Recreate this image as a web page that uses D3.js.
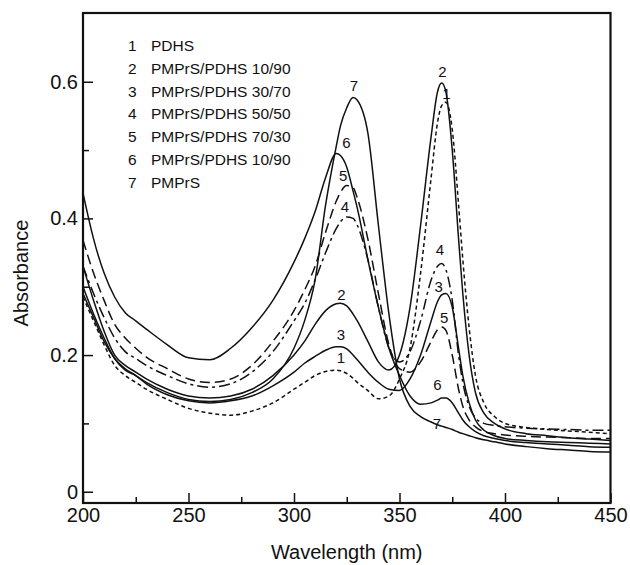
<!DOCTYPE html>
<html>
<head>
<meta charset="utf-8">
<script src="https://cdn.jsdelivr.net/npm/d3@7"></script>
<style>
  body { margin: 0; background: #fff; }
  svg { font-family: "Liberation Sans", Arial, sans-serif; }
  .line { fill: none; stroke: #111; stroke-width: 1.5; }
</style>
</head>
<body>
<div id="chart"></div>
<script>
// wavelength grid (nm), shared by all spectra
var wavelengths = [200, 205, 210, 215, 220, 225, 230, 240, 250, 260, 270, 280, 290, 300, 305, 310, 315, 320, 322, 325, 328, 330, 335, 340, 345, 350, 355, 360, 365, 368, 370, 372, 375, 378, 380, 383, 386, 390, 395, 400, 410, 420, 430, 440, 450];

var pdhs = [0.285, 0.25, 0.215, 0.185, 0.17, 0.16, 0.15, 0.135, 0.122, 0.115, 0.112, 0.118, 0.13, 0.15, 0.16, 0.17, 0.176, 0.178, 0.177, 0.173, 0.166, 0.16, 0.148, 0.136, 0.14, 0.165, 0.21, 0.32, 0.46, 0.54, 0.565, 0.57, 0.53, 0.42, 0.34, 0.24, 0.17, 0.13, 0.11, 0.1, 0.094, 0.091, 0.089, 0.087, 0.085];
var blend10 = [0.33, 0.28, 0.235, 0.2, 0.185, 0.175, 0.165, 0.15, 0.14, 0.137, 0.14, 0.15, 0.17, 0.2, 0.22, 0.245, 0.265, 0.275, 0.276, 0.272, 0.26, 0.25, 0.22, 0.19, 0.178, 0.2, 0.27, 0.39, 0.52, 0.585, 0.598, 0.585, 0.5, 0.37, 0.29, 0.2, 0.145, 0.115, 0.1, 0.092, 0.085, 0.082, 0.079, 0.077, 0.075];
var blend30 = [0.29, 0.255, 0.22, 0.195, 0.18, 0.17, 0.158, 0.142, 0.133, 0.13, 0.133, 0.14, 0.155, 0.175, 0.188, 0.198, 0.207, 0.212, 0.212, 0.209, 0.2, 0.193, 0.175, 0.16, 0.15, 0.148, 0.165, 0.2, 0.25, 0.278, 0.288, 0.29, 0.27, 0.21, 0.17, 0.13, 0.105, 0.09, 0.082, 0.078, 0.075, 0.073, 0.072, 0.071, 0.07];
var blend50 = [0.33, 0.29, 0.255, 0.225, 0.205, 0.195, 0.185, 0.17, 0.158, 0.153, 0.158, 0.175, 0.205, 0.25, 0.275, 0.31, 0.35, 0.385, 0.395, 0.402, 0.4, 0.39, 0.34, 0.27, 0.21, 0.19, 0.205, 0.25, 0.31, 0.33, 0.334, 0.325, 0.28, 0.2, 0.16, 0.125, 0.108, 0.1, 0.097, 0.095, 0.093, 0.092, 0.091, 0.09, 0.09];
var blend70 = [0.368, 0.32, 0.28, 0.245, 0.225, 0.21, 0.197, 0.18, 0.165, 0.16, 0.165, 0.185, 0.22, 0.265, 0.295, 0.33, 0.38, 0.425, 0.438, 0.448, 0.445, 0.43, 0.37, 0.29, 0.215, 0.18, 0.175, 0.19, 0.22, 0.237, 0.241, 0.236, 0.2, 0.15, 0.125, 0.105, 0.095, 0.088, 0.085, 0.083, 0.081, 0.08, 0.079, 0.078, 0.078];
var blend90 = [0.437, 0.37, 0.32, 0.285, 0.262, 0.25, 0.238, 0.215, 0.196, 0.193, 0.21, 0.24, 0.28, 0.336, 0.37, 0.41, 0.46, 0.495, 0.492, 0.475, 0.44, 0.415, 0.34, 0.27, 0.21, 0.17, 0.14, 0.128, 0.13, 0.134, 0.137, 0.137, 0.13, 0.115, 0.105, 0.095, 0.088, 0.082, 0.078, 0.075, 0.072, 0.07, 0.068, 0.066, 0.065];
var pmprs = [0.3, 0.26, 0.225, 0.195, 0.178, 0.17, 0.16, 0.145, 0.135, 0.132, 0.135, 0.145, 0.165, 0.21, 0.25, 0.31, 0.42, 0.505, 0.535, 0.562, 0.577, 0.573, 0.525, 0.39, 0.26, 0.165, 0.125, 0.11, 0.102, 0.098, 0.096, 0.094, 0.091, 0.087, 0.085, 0.082, 0.079, 0.076, 0.073, 0.07, 0.066, 0.063, 0.061, 0.059, 0.058];

var seriesNames = ["1", "2", "3", "4", "5", "6", "7"];
var seriesValues = [pdhs, blend10, blend30, blend50, blend70, blend90, pmprs];
var seriesDash = ["4,3", null, null, "11,4,3,4", "10,5", null, null];

var legendLabels = ["PDHS", "PMPrS/PDHS 10/90", "PMPrS/PDHS 30/70", "PMPrS/PDHS 50/50", "PMPrS/PDHS 70/30", "PMPrS/PDHS 10/90", "PMPrS"];

// curve number labels: [name, wavelength, absorbance]
var peakLabels = [
  ["7", 328.4, 0.594], ["6", 324.9, 0.51], ["5", 323.3, 0.463], ["4", 324.1, 0.417],
  ["2", 322.5, 0.288], ["3", 322.2, 0.23], ["1", 322.2, 0.196],
  ["2", 370.4, 0.615], ["1", 372.2, 0.582], ["4", 369.1, 0.354], ["3", 368.6, 0.3],
  ["5", 371.2, 0.255], ["6", 368, 0.156], ["7", 367.7, 0.099]
];

var xMajor = [200, 250, 300, 350, 400, 450];
var xMinor = [225, 275, 325, 375, 425];
var yMajor = [0, 0.2, 0.4, 0.6];
var yMinor = [0.1, 0.3, 0.5];

function draw_spectra() {
    var margin = {top: 13, right: 19.5, bottom: 62, left: 83},
        width = 630 - margin.left - margin.right,
        height = 565 - margin.top - margin.bottom;

    var x = d3.scaleLinear().domain([200, 450]).range([0, width]);
    var y = d3.scaleLinear().domain([-0.0165, 0.7006]).range([height, 0]);

    var svg = d3.select("#chart")
        .append("svg")
        .attr("width", 630)
        .attr("height", 565)
        .append("g")
        .attr("transform", "translate(" + margin.left + "," + margin.top + ")");

    // minor ticks first
    svg.append("g")
        .attr("transform", "translate(0," + height + ")")
        .call(d3.axisBottom(x).tickValues(xMinor).tickSize(-6).tickFormat(""));
    svg.append("g")
        .call(d3.axisLeft(y).tickValues(yMinor).tickSize(-6).tickFormat(""));

    svg.append("g")
        .attr("class", "x axis")
        .attr("transform", "translate(0," + height + ")")
        .call(d3.axisBottom(x).tickValues(xMajor).tickSize(-10).tickPadding(5).tickFormat(d3.format("d")));
    svg.append("g")
        .attr("class", "y axis")
        .call(d3.axisLeft(y).tickValues(yMajor).tickSize(-10).tickPadding(5)
            .tickFormat(function(d) { return d === 0 ? "0" : d3.format(".1f")(d); }));

    svg.selectAll(".domain").remove();
    svg.selectAll(".tick line").attr("stroke", "#111").attr("stroke-width", 1.5);
    svg.selectAll(".tick text").attr("font-size", 20).attr("fill", "#111")
        .attr("font-family", "Liberation Sans, Arial, sans-serif");

    svg.append("rect")
        .attr("width", width).attr("height", height)
        .attr("fill", "none").attr("stroke", "#111").attr("stroke-width", 2.2);

    var valueline = d3.line()
        .curve(d3.curveMonotoneX)
        .x(function(d, i) { return x(wavelengths[i]); })
        .y(function(d) { return y(d); });

    seriesValues.forEach(function(vals, k) {
        svg.append("path")
            .datum(vals)
            .attr("class", "line")
            .attr("stroke-dasharray", seriesDash[k])
            .attr("d", valueline);
    });

    svg.selectAll(".plabel")
        .data(peakLabels)
        .enter().append("text")
        .attr("class", "plabel")
        .attr("x", function(d) { return x(d[1]); })
        .attr("y", function(d) { return y(d[2]); })
        .attr("text-anchor", "middle")
        .attr("dy", "0.35em")
        .attr("font-size", 15)
        .attr("fill", "#111")
        .text(function(d) { return d[0]; });

    var legend = svg.append("g").attr("font-size", 15.5).attr("fill", "#111");
    legendLabels.forEach(function(lab, i) {
        legend.append("text").attr("x", 45).attr("y", 38 + i * 22.8)
            .attr("text-anchor", "start").text(seriesNames[i]);
        legend.append("text").attr("x", 68).attr("y", 38 + i * 22.8).text(lab);
    });

    svg.append("text")
        .attr("x", width / 2)
        .attr("y", height + 56)
        .attr("text-anchor", "middle")
        .attr("font-size", 20)
        .attr("fill", "#111")
        .text("Wavelength (nm)");

    svg.append("text")
        .attr("transform", "translate(" + (-55) + "," + y(0.32) + ") rotate(-90)")
        .attr("text-anchor", "middle")
        .attr("font-size", 20)
        .attr("fill", "#111")
        .text("Absorbance");
}

draw_spectra();
</script>
</body>
</html>
